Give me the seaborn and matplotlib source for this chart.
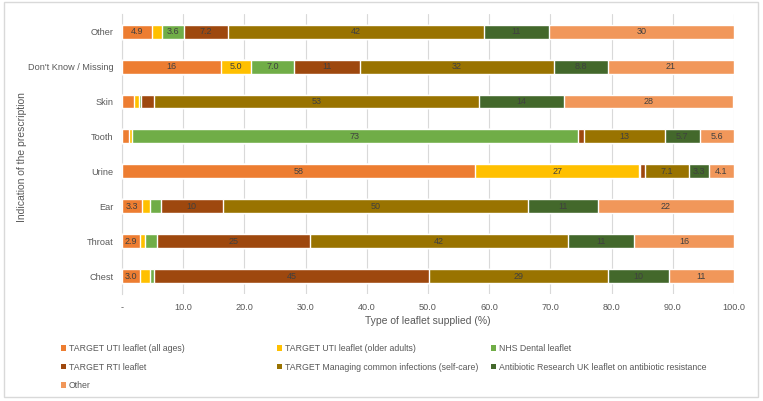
import matplotlib
matplotlib.use("Agg")
import matplotlib.pyplot as plt
from matplotlib.patches import Patch, Rectangle
from matplotlib import font_manager
import seaborn as sns
import pandas as pd
import numpy as np

# data (percent of leaflets supplied per indication)
indications = ["Other", "Don't Know / Missing", "Skin", "Tooth", "Urine", "Ear", "Throat", "Chest"]
series_names = [
    "TARGET UTI leaflet (all ages)",
    "TARGET UTI leaflet (older adults)",
    "NHS Dental leaflet",
    "TARGET RTI leaflet",
    "TARGET Managing common infections (self-care)",
    "Antibiotic Research UK leaflet on antibiotic resistance",
    "Other",
]
uti_all = [4.9, 16.1, 1.9, 1.2, 57.7, 3.3, 2.9, 3.0]
uti_older = [1.6, 5.0, 0.8, 0.4, 26.8, 1.2, 0.9, 1.5]
dental = [3.6, 7.0, 0.4, 72.9, 0.2, 1.8, 2.0, 0.8]
rti = [7.2, 10.8, 2.1, 1.0, 0.8, 10.2, 24.9, 44.8]
self_care = [41.8, 31.7, 53.2, 13.2, 7.1, 49.9, 42.2, 29.3]
abr_uk = [10.6, 8.8, 13.8, 5.7, 3.3, 11.4, 10.8, 10.0]
other = [30.3, 20.6, 27.7, 5.6, 4.1, 22.2, 16.3, 10.6]
colors = ["#ED7D31", "#FFC000", "#70AD47", "#9E480E", "#997300", "#43682B", "#F1975A"]
x_ticks = [0, 10, 20, 30, 40, 50, 60, 70, 80, 90, 100]

available = {f.name for f in font_manager.fontManager.ttflist}
font = "Liberation Sans Narrow" if "Liberation Sans Narrow" in available else "Liberation Sans"

sns.set_style("white")
plt.rcParams["font.family"] = [font, "DejaVu Sans"]

series = [uti_all, uti_older, dental, rti, self_care, abr_uk, other]
df = pd.DataFrame({name: vals for name, vals in zip(series_names, series)}, index=indications)
cum = df.cumsum(axis=1)

fig = plt.figure(figsize=(7.63, 4.01), dpi=100)
ax = fig.add_axes([0.1599, 0.268, 0.802, 0.6965])

# stacked bars: draw cumulative totals from the widest down, each covering the previous
for name, col in reversed(list(zip(series_names, colors))):
    d = pd.DataFrame({"indication": indications, "value": cum[name].values})
    sns.barplot(data=d, x="value", y="indication", order=indications, color=col,
                width=0.4, orient="h", saturation=1, ax=ax, zorder=3)

# data labels
for i, ind in enumerate(indications):
    left = 0
    for name in series_names:
        v = df.loc[ind, name]
        if v >= 2.5:
            txt = f"{v:.1f}" if v < 9.95 else f"{v:.0f}"
            ax.text(left + v / 2, i, txt, ha="center", va="center",
                    fontsize=6.5, color="#404040", zorder=4)
        left += v

ax.set_xlim(0, 100)
ax.set_ylim(len(indications) - 0.5, -0.5)
ax.set_xticks(x_ticks)
ax.set_xticklabels(["-"] + [f"{t:.1f}" for t in x_ticks[1:]])
ax.grid(axis="x", color="#D9D9D9", lw=0.8, zorder=0)
ax.grid(axis="y", visible=False)
for s in ["top", "right", "bottom"]:
    ax.spines[s].set_visible(False)
ax.spines["left"].set_color("#D9D9D9")
ax.spines["left"].set_linewidth(0.8)
ax.set_yticks(np.arange(-0.5, len(indications)), minor=True)
ax.tick_params(axis="y", which="minor", length=3, color="#D9D9D9", width=0.8)
ax.tick_params(axis="y", which="major", length=0, pad=6, labelsize=6.6, labelcolor="#595959")
ax.tick_params(axis="x", length=0, pad=7, labelsize=6.6, labelcolor="#595959")
ax.set_xlabel("Type of leaflet supplied (%)", fontsize=7.5, color="#595959", labelpad=3)
ax.set_ylabel("")
fig.text(0.029, 0.608, "Indication of the prescription", rotation=90, ha="center", va="center",
         fontsize=7.5, color="#595959")

# legend in three columns
cols = [[0, 3, 6], [1, 4], [2, 5]]
col_x = [61 / 763, 277 / 763, 491 / 763]
for idxs, xpos in zip(cols, col_x):
    handles = [Patch(facecolor=colors[k], edgecolor="none", label=series_names[k]) for k in idxs]
    fig.legend(handles=handles, loc="upper left", bbox_to_anchor=(xpos, 1 - 344 / 401),
               frameon=False, fontsize=6.3, handlelength=0.6, handleheight=0.6,
               handletextpad=0.3, labelspacing=1.1, borderpad=0, borderaxespad=0,
               labelcolor="#595959")

fig.patches.append(Rectangle((4 / 763, 1 - 397 / 401), 754 / 763, 395 / 401,
                             transform=fig.transFigure, fill=False, edgecolor="#D9D9D9", lw=1))

fig.savefig("out.png", dpi=100)
